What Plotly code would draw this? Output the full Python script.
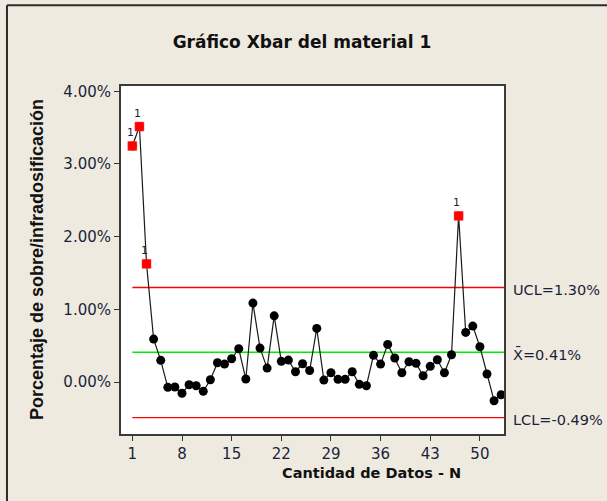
import plotly.graph_objects as go

# Subgroup means (% over/under dosing) for material 1
sample = list(range(1, 54))
pct = [3.248, 3.515, 1.626, 0.591, 0.298, -0.073, -0.069, -0.155, -0.037, -0.051,
       -0.128, 0.032, 0.265, 0.247, 0.320, 0.458, 0.041, 1.086, 0.467, 0.192,
       0.911, 0.285, 0.302, 0.142, 0.252, 0.158, 0.738, 0.027, 0.128, 0.037,
       0.037, 0.142, -0.032, -0.051, 0.367, 0.247, 0.518, 0.330, 0.128, 0.279,
       0.257, 0.087, 0.216, 0.307, 0.128, 0.375, 2.286, 0.683, 0.770, 0.485,
       0.110, -0.257, -0.175]

# Control limits
ucl = 1.30
center = 0.41
lcl = -0.49

# Samples flagged by test 1 (point beyond the control limits)
flagged = [1, 2, 3, 47]

x_ticks = [1, 8, 15, 22, 29, 36, 43, 50]
y_ticks = [0, 1, 2, 3, 4]
y_tick_text = ["0.00%", "1.00%", "2.00%", "3.00%", "4.00%"]

x_range = [-0.6, 53.4]
y_range = [-0.715, 4.073]

BG = "#EEEAE0"
TXT = "#1c1f3a"
BODY_FONT = "DejaVu Sans, sans-serif"

fig = go.Figure()

# Connecting line + in-control points
fig.add_trace(go.Scatter(
    x=sample, y=pct, mode="lines+markers",
    line=dict(color="#1a1a1a", width=1.2),
    marker=dict(color="black", size=9, symbol="circle"),
    hoverinfo="skip", showlegend=False,
))

# Out-of-control points
fy = [pct[s - 1] for s in flagged]
fig.add_trace(go.Scatter(
    x=flagged, y=fy, mode="markers",
    marker=dict(color="#ff0000", size=9, symbol="square",
                line=dict(color="#ff4040", width=0.5)),
    hoverinfo="skip", showlegend=False,
))

shapes = []
for val, col in [(ucl, "#ff0000"), (center, "#00ee00"), (lcl, "#ff0000")]:
    shapes.append(dict(type="line", xref="x", yref="y",
                       x0=1, x1=x_range[1], y0=val, y1=val,
                       line=dict(color=col, width=1.4), layer="below"))

# Outer frame (top and left edges)
shapes.append(dict(type="line", xref="paper", yref="paper",
                   x0=-0.2977, x1=1.27, y0=1.2317, y1=1.2317,
                   line=dict(color="#2b2b2b", width=2)))
shapes.append(dict(type="line", xref="paper", yref="paper",
                   x0=-0.2977, x1=-0.2977, y0=1.2317, y1=-0.2,
                   line=dict(color="#2b2b2b", width=2)))

annotations = []
# Test-failure labels
for s in flagged:
    annotations.append(dict(x=s, y=pct[s - 1], xref="x", yref="y",
                            text="1", showarrow=False, yshift=13, xshift=-2,
                            font=dict(family=BODY_FONT, size=11, color=TXT)))

# Control-limit labels
for val, label in [(ucl, "UCL=1.30%"), (center, "X\u0304=0.41%"), (lcl, "LCL=-0.49%")]:
    annotations.append(dict(x=1.018, y=val, xref="paper", yref="y",
                            text=label, showarrow=False, xanchor="left",
                            yanchor="middle", yshift=-2,
                            font=dict(family=BODY_FONT, size=14.5, color=TXT)))

# Axis titles
annotations.append(dict(x=-0.219, y=0.5, xref="paper", yref="paper",
                        text="<b>Porcentaje de sobre/infradosificación</b>",
                        textangle=-90, showarrow=False,
                        xanchor="center", yanchor="middle",
                        font=dict(family="Liberation Sans, Arial, sans-serif",
                                  size=18, color="#111111")))
annotations.append(dict(x=0.654, y=-0.111, xref="paper", yref="paper",
                        text="<b>Cantidad de Datos - N</b>", showarrow=False,
                        xanchor="center", yanchor="middle",
                        font=dict(family=BODY_FONT, size=14.5, color="#111111")))

fig.update_layout(
    width=607, height=501,
    margin=dict(l=121, r=103, t=86, b=67),
    paper_bgcolor=BG, plot_bgcolor="white",
    title=dict(text="<b>Gráfico Xbar del material 1</b>",
               x=0.4975, xref="container", xanchor="center",
               y=0.916, yref="container", yanchor="middle",
               font=dict(family=BODY_FONT, size=17, color="#111111")),
    shapes=shapes, annotations=annotations,
    showlegend=False,
)

fig.update_xaxes(range=x_range, tickvals=x_ticks, ticks="outside", ticklen=5,
                 tickcolor="#333333", showgrid=False, zeroline=False,
                 showline=True, linecolor="#3a3a3a", linewidth=2, mirror=True,
                 tickfont=dict(family=BODY_FONT, size=15, color=TXT))
fig.update_yaxes(range=y_range, tickvals=y_ticks, ticktext=y_tick_text,
                 ticks="outside", ticklen=5, tickcolor="#333333",
                 showgrid=False, zeroline=False,
                 showline=True, linecolor="#3a3a3a", linewidth=2, mirror=True,
                 tickfont=dict(family=BODY_FONT, size=15, color=TXT))

fig.write_html("out.html")
